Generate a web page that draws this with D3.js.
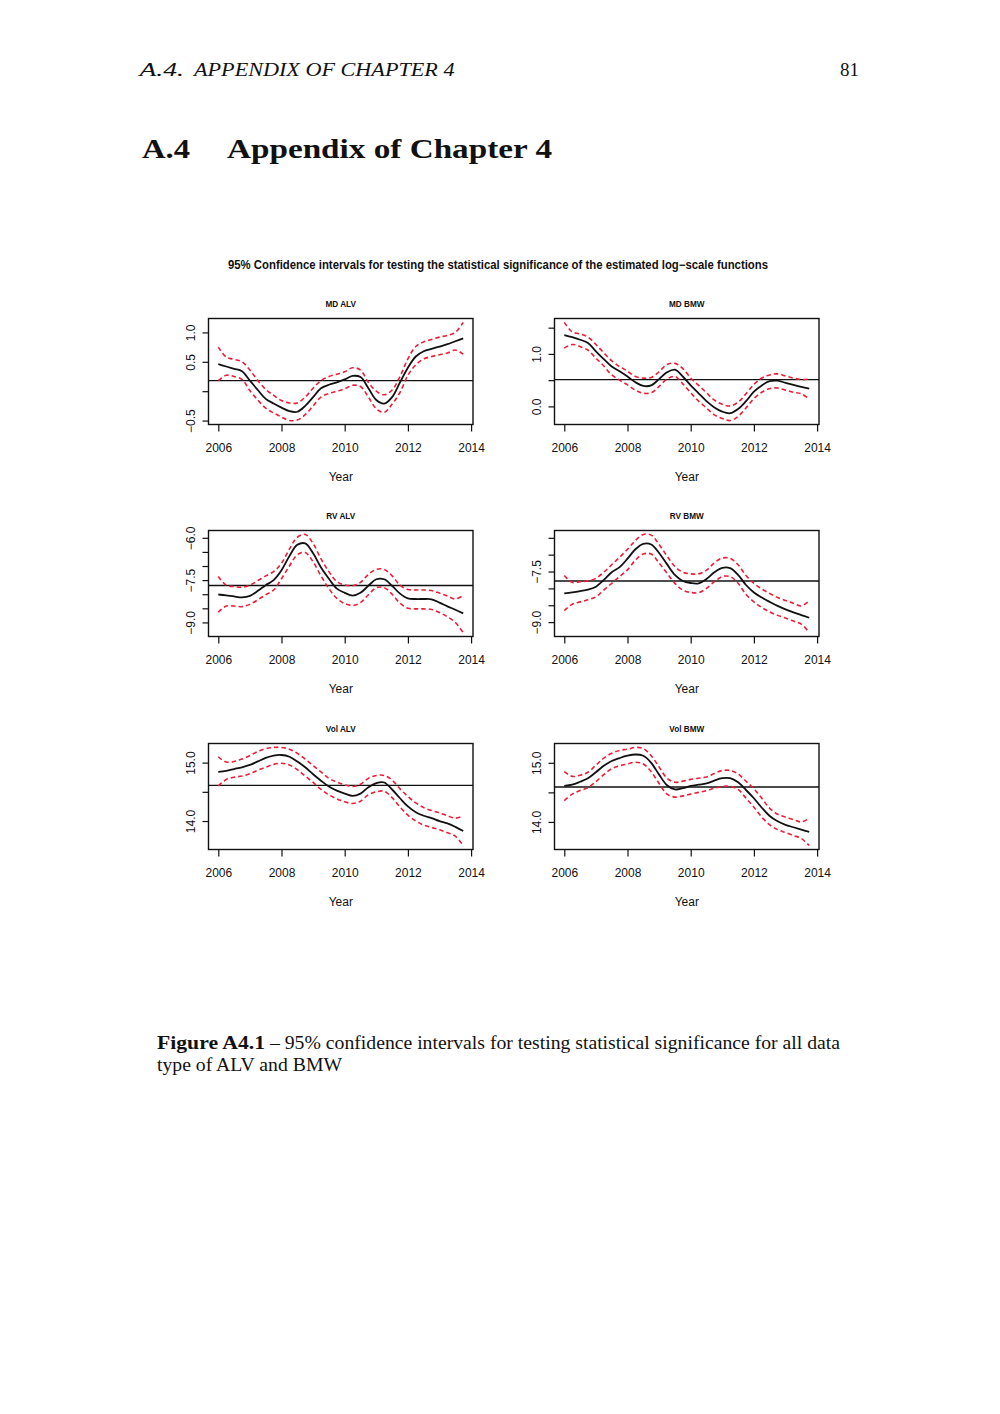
<!DOCTYPE html>
<html><head><meta charset="utf-8">
<script src="https://cdn.jsdelivr.net/npm/d3@7"></script>
<style>body{margin:0;background:#fff}</style>
</head><body>
<svg id="page" width="1000" height="1414"></svg>
<script>
// ---------- data ----------
const years = [2006,2006.25,2006.5,2006.75,2007,2007.25,2007.5,2007.75,2008,2008.25,2008.5,2008.75,2009,2009.25,2009.5,2009.75,2010,2010.25,2010.5,2010.75,2011,2011.25,2011.5,2011.75,2012,2012.25,2012.5,2012.75,2013,2013.25,2013.5,2013.75];
const xTicks = [2006, 2008, 2010, 2012, 2014];
const panelTitles = ["MD ALV", "MD BMW", "RV ALV", "RV BMW", "Vol ALV", "Vol BMW"];

const mdAlvFit   = [0.46,0.42,0.38,0.34,0.18,0.02,-0.13,-0.21,-0.28,-0.34,-0.35,-0.25,-0.10,0.05,0.11,0.15,0.20,0.26,0.24,0.05,-0.15,-0.21,-0.10,0.15,0.40,0.59,0.68,0.72,0.76,0.80,0.85,0.90];
const mdAlvUpper = [0.75,0.58,0.54,0.50,0.36,0.18,0.03,-0.07,-0.16,-0.20,-0.20,-0.10,0.05,0.18,0.25,0.29,0.33,0.40,0.36,0.15,0.00,-0.06,0.02,0.25,0.55,0.76,0.84,0.88,0.92,0.95,1.00,1.17];
const mdAlvLower = [0.18,0.27,0.25,0.20,0.01,-0.15,-0.29,-0.37,-0.44,-0.50,-0.49,-0.40,-0.25,-0.10,-0.04,0.00,0.04,0.10,0.08,-0.10,-0.30,-0.36,-0.22,-0.02,0.27,0.45,0.55,0.59,0.62,0.65,0.70,0.63];

const mdBmwFit   = [1.36,1.32,1.27,1.21,1.05,0.90,0.76,0.67,0.57,0.46,0.39,0.40,0.52,0.65,0.70,0.57,0.40,0.25,0.10,-0.02,-0.10,-0.13,-0.05,0.10,0.28,0.40,0.48,0.49,0.45,0.41,0.37,0.34];
const mdBmwUpper = [1.60,1.42,1.38,1.32,1.18,1.02,0.87,0.76,0.67,0.57,0.54,0.55,0.66,0.80,0.82,0.72,0.54,0.40,0.26,0.12,0.04,0.01,0.08,0.24,0.42,0.54,0.60,0.62,0.58,0.54,0.51,0.52];
const mdBmwLower = [1.11,1.18,1.14,1.07,0.92,0.77,0.60,0.50,0.41,0.31,0.25,0.26,0.38,0.52,0.57,0.43,0.26,0.10,-0.03,-0.16,-0.23,-0.27,-0.19,-0.03,0.15,0.27,0.34,0.35,0.31,0.27,0.24,0.14];

const rvAlvFit   = [-8.01,-8.04,-8.08,-8.11,-8.06,-7.88,-7.68,-7.50,-7.15,-6.65,-6.25,-6.20,-6.55,-7.05,-7.45,-7.80,-7.95,-8.05,-7.95,-7.70,-7.47,-7.47,-7.70,-7.98,-8.15,-8.17,-8.17,-8.18,-8.30,-8.43,-8.55,-8.68];
const rvAlvUpper = [-7.37,-7.68,-7.73,-7.75,-7.68,-7.52,-7.35,-7.20,-6.90,-6.40,-5.98,-5.88,-6.20,-6.75,-7.20,-7.55,-7.67,-7.70,-7.58,-7.30,-7.12,-7.12,-7.35,-7.68,-7.83,-7.85,-7.85,-7.87,-7.96,-8.06,-8.17,-8.04];
const rvAlvLower = [-8.64,-8.42,-8.42,-8.44,-8.36,-8.20,-8.02,-7.85,-7.45,-7.00,-6.60,-6.52,-6.85,-7.35,-7.80,-8.15,-8.33,-8.40,-8.30,-8.02,-7.77,-7.77,-8.00,-8.32,-8.50,-8.52,-8.52,-8.54,-8.65,-8.80,-9.00,-9.36];

const rvBmwFit   = [-8.15,-8.12,-8.08,-8.04,-7.95,-7.75,-7.52,-7.37,-7.12,-6.84,-6.68,-6.70,-6.95,-7.28,-7.60,-7.78,-7.84,-7.85,-7.72,-7.52,-7.39,-7.40,-7.60,-7.90,-8.12,-8.27,-8.40,-8.52,-8.62,-8.71,-8.79,-8.87];
const rvBmwUpper = [-7.62,-7.82,-7.80,-7.78,-7.70,-7.52,-7.30,-7.08,-6.84,-6.58,-6.40,-6.42,-6.70,-7.04,-7.35,-7.52,-7.57,-7.57,-7.46,-7.24,-7.10,-7.11,-7.30,-7.62,-7.85,-8.02,-8.15,-8.27,-8.36,-8.44,-8.52,-8.37];
const rvBmwLower = [-8.66,-8.47,-8.40,-8.34,-8.25,-8.05,-7.85,-7.65,-7.45,-7.16,-6.98,-6.98,-7.25,-7.55,-7.85,-8.05,-8.12,-8.13,-8.00,-7.80,-7.65,-7.65,-7.85,-8.18,-8.40,-8.57,-8.70,-8.80,-8.88,-8.97,-9.06,-9.31];

const volAlvFit   = [14.84,14.86,14.89,14.92,14.96,15.02,15.08,15.12,15.13,15.10,15.02,14.92,14.80,14.69,14.59,14.52,14.47,14.43,14.47,14.58,14.65,14.66,14.54,14.39,14.25,14.15,14.09,14.05,14.00,13.96,13.90,13.83];
const volAlvUpper = [15.10,15.01,15.02,15.06,15.12,15.19,15.24,15.26,15.26,15.23,15.16,15.06,14.95,14.84,14.73,14.67,14.62,14.59,14.63,14.73,14.78,14.78,14.70,14.55,14.42,14.31,14.23,14.18,14.14,14.09,14.05,14.09];
const volAlvLower = [14.60,14.71,14.75,14.77,14.81,14.87,14.92,14.97,14.99,14.96,14.88,14.77,14.66,14.54,14.45,14.38,14.33,14.30,14.34,14.45,14.50,14.51,14.40,14.24,14.10,14.00,13.93,13.89,13.85,13.80,13.74,13.58];

const volBmwFit   = [14.61,14.63,14.68,14.74,14.84,14.95,15.03,15.08,15.12,15.14,15.12,15.00,14.80,14.62,14.55,14.57,14.61,14.63,14.65,14.70,14.74,14.74,14.67,14.54,14.40,14.24,14.10,14.01,13.95,13.91,13.87,13.83];
const volBmwUpper = [14.85,14.77,14.79,14.84,14.96,15.08,15.16,15.21,15.23,15.26,15.24,15.12,14.93,14.74,14.67,14.69,14.72,14.74,14.76,14.82,14.87,14.87,14.81,14.69,14.56,14.40,14.23,14.13,14.08,14.04,14.00,14.06];
const volBmwLower = [14.36,14.47,14.53,14.58,14.68,14.80,14.90,14.95,14.98,15.01,14.98,14.85,14.65,14.47,14.42,14.44,14.47,14.50,14.53,14.57,14.60,14.60,14.55,14.40,14.25,14.08,13.95,13.87,13.82,13.77,13.72,13.60];

// horizontal reference levels
const refLevels = [0.18, 0.51, -7.69, -7.78, 14.61, 14.59];

// y ticks and which of them carry labels
const yTicks1 = [-0.5, 0, 0.5, 1.0],            yLabels1 = [-0.5, 0.5, 1.0];
const yTicks2 = [0, 0.5, 1.0, 1.5],             yLabels2 = [0, 1.0];
const yTicks3 = [-9, -8.5, -8, -7.5, -7, -6.5, -6], yLabels3 = [-9, -7.5, -6];
const yTicks4 = [-9, -8.5, -8, -7.5, -7, -6.5], yLabels4 = [-9, -7.5];
const yTicks5 = [14, 14.5, 15],                 yLabels5 = [14, 15];
const yTicks6 = [14, 14.5, 15],                 yLabels6 = [14, 15];

const mainTitle = "95% Confidence intervals for testing the statistical significance of the estimated log\u2212scale functions";
const xLabel = "Year";

// ---------- assemble panels ----------
const panels = [
  {title: panelTitles[0], fit: mdAlvFit, upper: mdAlvUpper, lower: mdAlvLower, ref: refLevels[0], ticks: yTicks1, labels: yLabels1},
  {title: panelTitles[1], fit: mdBmwFit, upper: mdBmwUpper, lower: mdBmwLower, ref: refLevels[1], ticks: yTicks2, labels: yLabels2},
  {title: panelTitles[2], fit: rvAlvFit, upper: rvAlvUpper, lower: rvAlvLower, ref: refLevels[2], ticks: yTicks3, labels: yLabels3},
  {title: panelTitles[3], fit: rvBmwFit, upper: rvBmwUpper, lower: rvBmwLower, ref: refLevels[3], ticks: yTicks4, labels: yLabels4},
  {title: panelTitles[4], fit: volAlvFit, upper: volAlvUpper, lower: volAlvLower, ref: refLevels[4], ticks: yTicks5, labels: yLabels5},
  {title: panelTitles[5], fit: volBmwFit, upper: volBmwUpper, lower: volBmwLower, ref: refLevels[5], ticks: yTicks6, labels: yLabels6}
];

// ---------- drawing ----------
const svg = d3.select("#page");
const SANS = "'Liberation Sans', Arial, Helvetica, sans-serif";
const SERIF = "'Liberation Serif', 'Times New Roman', serif";
const RED = "#ee1c36";

// page text
function txt(s, x, y, opts) {
  const t = svg.append("text").attr("x", x).attr("y", y).text(s)
    .attr("font-family", opts.family || SERIF)
    .attr("font-size", opts.size)
    .attr("fill", "#111");
  if (opts.weight) t.attr("font-weight", opts.weight);
  if (opts.style) t.attr("font-style", opts.style);
  if (opts.anchor) t.attr("text-anchor", opts.anchor);
  if (opts.len) t.attr("textLength", opts.len).attr("lengthAdjust", "spacingAndGlyphs");
  return t;
}
txt("A.4.", 139.5, 76, {size: 19, style: "italic", len: 44.5});
txt("APPENDIX OF CHAPTER 4", 194, 76, {size: 19, style: "italic", len: 260.5});
txt("81", 859, 76, {size: 19, anchor: "end"});
txt("A.4", 142, 158, {size: 27, weight: "bold", len: 48});
txt("Appendix of Chapter 4", 227, 158, {size: 27, weight: "bold", len: 325});
txt("Figure A4.1", 157, 1049, {size: 19, weight: "bold", len: 108});
txt("\u2013 95% confidence intervals for testing statistical significance for all data", 270, 1049, {size: 19, len: 570});
txt("type of ALV and BMW", 157, 1071, {size: 19, len: 185});

// main chart title
svg.append("text").attr("x", 498).attr("y", 269).attr("text-anchor", "middle")
  .attr("font-family", SANS).attr("font-weight", "bold").attr("font-size", 12)
  .attr("textLength", 540).attr("lengthAdjust", "spacingAndGlyphs")
  .attr("fill", "#111").text(mainTitle);

const colX = [208.5, 554.5], rowY = [318.5, 530.5, 743.5];
const W = 264.5, H = 106;
const pad = ext => { const d = ext[1] - ext[0]; return [ext[0] - 0.04 * d, ext[1] + 0.04 * d]; };
const fmtY = d3.format(".1f");

panels.forEach((p, i) => {
  const x0 = colX[i % 2], y0 = rowY[Math.floor(i / 2)];
  const xs = d3.scaleLinear().domain(pad(d3.extent(years))).range([x0, x0 + W]);
  const ys = d3.scaleLinear().domain(pad(d3.extent(p.fit.concat(p.upper, p.lower)))).range([y0 + H, y0]);
  const g = svg.append("g");

  // panel title
  g.append("text").attr("x", x0 + W / 2).attr("y", y0 - 12).attr("text-anchor", "middle")
    .attr("font-family", SANS).attr("font-weight", "bold").attr("font-size", 8.2)
    .attr("fill", "#111").text(p.title);

  // x axis
  const xa = g.append("g").attr("transform", `translate(0,${y0 + H})`)
    .call(d3.axisBottom(xs).tickValues(xTicks).tickFormat(d3.format("d")).tickSizeOuter(0).tickSize(7));
  xa.select(".domain").remove();
  xa.selectAll("line").attr("stroke", "#111").attr("stroke-width", 1.2);
  xa.selectAll("text").attr("dy", null).attr("y", 27.5)
    .attr("font-family", SANS).attr("font-size", 12).attr("fill", "#111");

  // y axis
  const ya = g.append("g").attr("transform", `translate(${x0},0)`)
    .call(d3.axisLeft(ys).tickValues(p.ticks).tickSize(6).tickSizeOuter(0)
      .tickFormat(d => p.labels.indexOf(d) >= 0 ? fmtY(d) : ""));
  ya.select(".domain").remove();
  ya.selectAll("line").attr("stroke", "#111").attr("stroke-width", 1.2);
  ya.selectAll("text").attr("x", 0).attr("dy", null).attr("y", -13.5)
    .attr("transform", "rotate(-90)").attr("text-anchor", "middle")
    .attr("font-family", SANS).attr("font-size", 12).attr("fill", "#111");

  // x label
  g.append("text").attr("x", x0 + W / 2).attr("y", y0 + H + 56).attr("text-anchor", "middle")
    .attr("font-family", SANS).attr("font-size", 12).attr("fill", "#111").text(xLabel);

  // reference line
  g.append("line").attr("x1", x0).attr("x2", x0 + W)
    .attr("y1", ys(p.ref)).attr("y2", ys(p.ref))
    .attr("stroke", "#111").attr("stroke-width", 1.4);

  const line = d3.line().x((d, j) => xs(years[j])).y(d => ys(d)).curve(d3.curveCatmullRom.alpha(0.5));

  [p.upper, p.lower].forEach(s => {
    g.append("path").attr("d", line(s)).attr("fill", "none")
      .attr("stroke", RED).attr("stroke-width", 1.6).attr("stroke-dasharray", "4.5,3");
  });
  g.append("path").attr("d", line(p.fit)).attr("fill", "none")
    .attr("stroke", "#111").attr("stroke-width", 1.8);

  // box
  g.append("rect").attr("x", x0).attr("y", y0).attr("width", W).attr("height", H)
    .attr("fill", "none").attr("stroke", "#111").attr("stroke-width", 1.4);
});
</script>
</body></html>
